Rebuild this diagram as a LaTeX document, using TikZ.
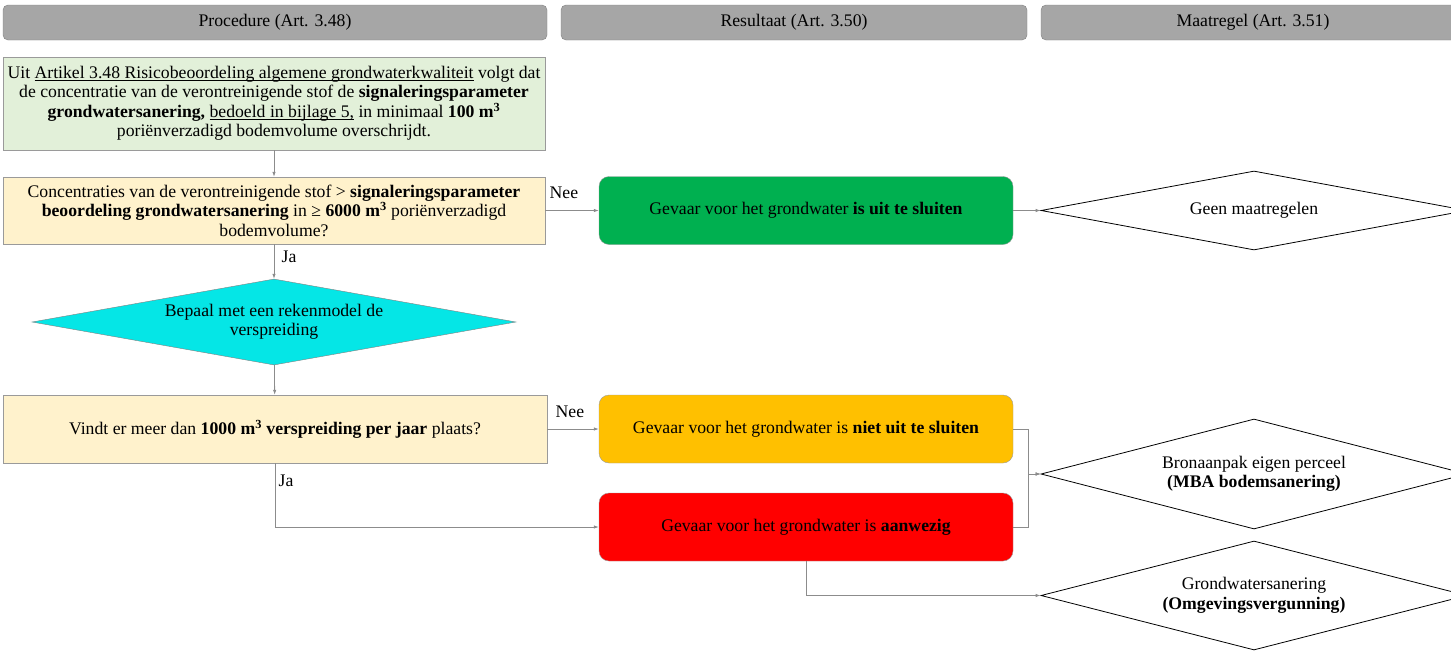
\documentclass[tikz,border=0pt]{standalone}
\usepackage{fontspec}
\setmainfont{Liberation Serif}
\usetikzlibrary{shapes.geometric,arrows.meta}
\definecolor{headgray}{HTML}{A6A6A6}
\definecolor{boxline}{HTML}{9A9A9A}
\definecolor{linegray}{HTML}{8C8C8C}
\definecolor{startgreen}{HTML}{E2F0D9}
\definecolor{askyellow}{HTML}{FFF2CC}
\definecolor{calccyan}{HTML}{05E6E6}
\definecolor{okgreen}{HTML}{00B050}
\definecolor{warnorange}{HTML}{FFC000}
\definecolor{badred}{HTML}{FF0000}
\newcommand{\undl}[1]{\begingroup\setbox0\hbox{#1}\leavevmode\rlap{\rule[-2.5pt]{\wd0}{0.7pt}}\box0\endgroup}
\begin{document}
\begin{tikzpicture}[x=1pt,y=-1pt,
    every node/.style={font=\fontsize{17.7}{19.5}\selectfont},
    head/.style={draw=gray, fill=headgray, rounded corners=5pt, minimum height=35pt, inner sep=0pt},
    box/.style={draw=boxline, minimum width=542pt, align=center, inner sep=0pt},
    res/.style={draw=boxline, rounded corners=10pt, minimum width=414pt, minimum height=68pt, inner sep=0pt},
    dia/.style={diamond, draw=black, line width=0.8pt, minimum width=426pt, inner sep=0pt},
    line/.style={draw=linegray, line width=0.8pt},
    arr/.style={line, -{Latex[length=5pt,width=3.5pt]}}]
    \useasboundingbox (0,0) rectangle (1451,653);
    \clip (0,0) rectangle (1451,653);

    % column headers
    \node[head, minimum width=544pt] (hp) at (275,22.5) {Procedure (Art. 3.48)};
    \node[head, minimum width=466pt] (hr) at (794,22.5) {Resultaat (Art. 3.50)};
    \node[head, minimum width=424pt] (hm) at (1253,22.5) {Maatregel (Art. 3.51)};

    % procedure
    \node[box, fill=startgreen, minimum height=93pt] (start) at (274,103.5)
        {Uit \undl{Artikel 3.48 Risicobeoordeling algemene grondwaterkwaliteit} volgt dat\\
         de concentratie van de verontreinigende stof de \textbf{signaleringsparameter}\\
         \textbf{grondwatersanering,} \undl{bedoeld in bijlage 5,} in minimaal \textbf{100 m\textsuperscript{3}}\\
         poriënverzadigd bodemvolume overschrijdt.};
    \node[box, fill=askyellow, minimum height=67pt] (q1) at (274,210.5)
        {Concentraties van de verontreinigende stof > \textbf{signaleringsparameter}\\
         \textbf{beoordeling grondwatersanering} in ≥ \textbf{6000 m\textsuperscript{3}} poriënverzadigd\\
         bodemvolume?};
    \node[diamond, draw=gray, fill=calccyan, minimum width=484pt, minimum height=86pt, inner sep=0pt] (calc) at (274,322) {};
    \node[align=center] (calctxt) at (calc) {Bepaal met een rekenmodel de\\ verspreiding};
    \node[box, fill=askyellow, minimum width=544pt, minimum height=68pt] (q2) at (275,429)
        {Vindt er meer dan \textbf{1000 m\textsuperscript{3} verspreiding per jaar} plaats?};

    % resultaat
    \node[res, fill=okgreen] (safe) at (806,210.5) {Gevaar voor het grondwater \textbf{is uit te sluiten}};
    \node[res, fill=warnorange] (maybe) at (806,429) {Gevaar voor het grondwater is \textbf{niet uit te sluiten}};
    \node[res, fill=badred] (risk) at (806,527) {Gevaar voor het grondwater is \textbf{aanwezig}};

    % maatregel
    \node[dia, minimum height=79pt] (none) at (1254,210.5) {};
    \node (nonetxt) at (none) {Geen maatregelen};
    \node[dia, minimum height=110pt] (bron) at (1254,474) {};
    \node[align=center] (brontxt) at (bron) {Bronaanpak eigen perceel\\ \textbf{(MBA bodemsanering)}};
    \node[dia, minimum height=109pt] (grond) at (1254,595.5) {};
    \node[align=center] (grondtxt) at (grond) {Grondwatersanering\\ \textbf{(Omgevingsvergunning)}};

    % connectors
    \draw[arr] (start) -- (q1);
    \draw[arr] (q1) -- node[pos=0.37, right=4pt] {Ja} (calc);
    \draw[arr] (calc) -- (q2);
    \draw[arr] (q1) -- node[pos=0.35, above=8pt] {Nee} (safe);
    \draw[arr] (q2) -- node[pos=0.44, above=8pt] {Nee} (maybe);
    \draw[arr] (q2.south) |- node[pos=0.14, right=0pt] {Ja} (risk.west);
    \draw[arr] (safe) -- (none);
    \draw[arr] (maybe.east) -- ++(15,0) |- (bron.west);
    \draw[arr] (risk.east) -- ++(15,0) |- (bron.west);
    \draw[arr] (risk.south) |- (grond.west);
\end{tikzpicture}
\end{document}
